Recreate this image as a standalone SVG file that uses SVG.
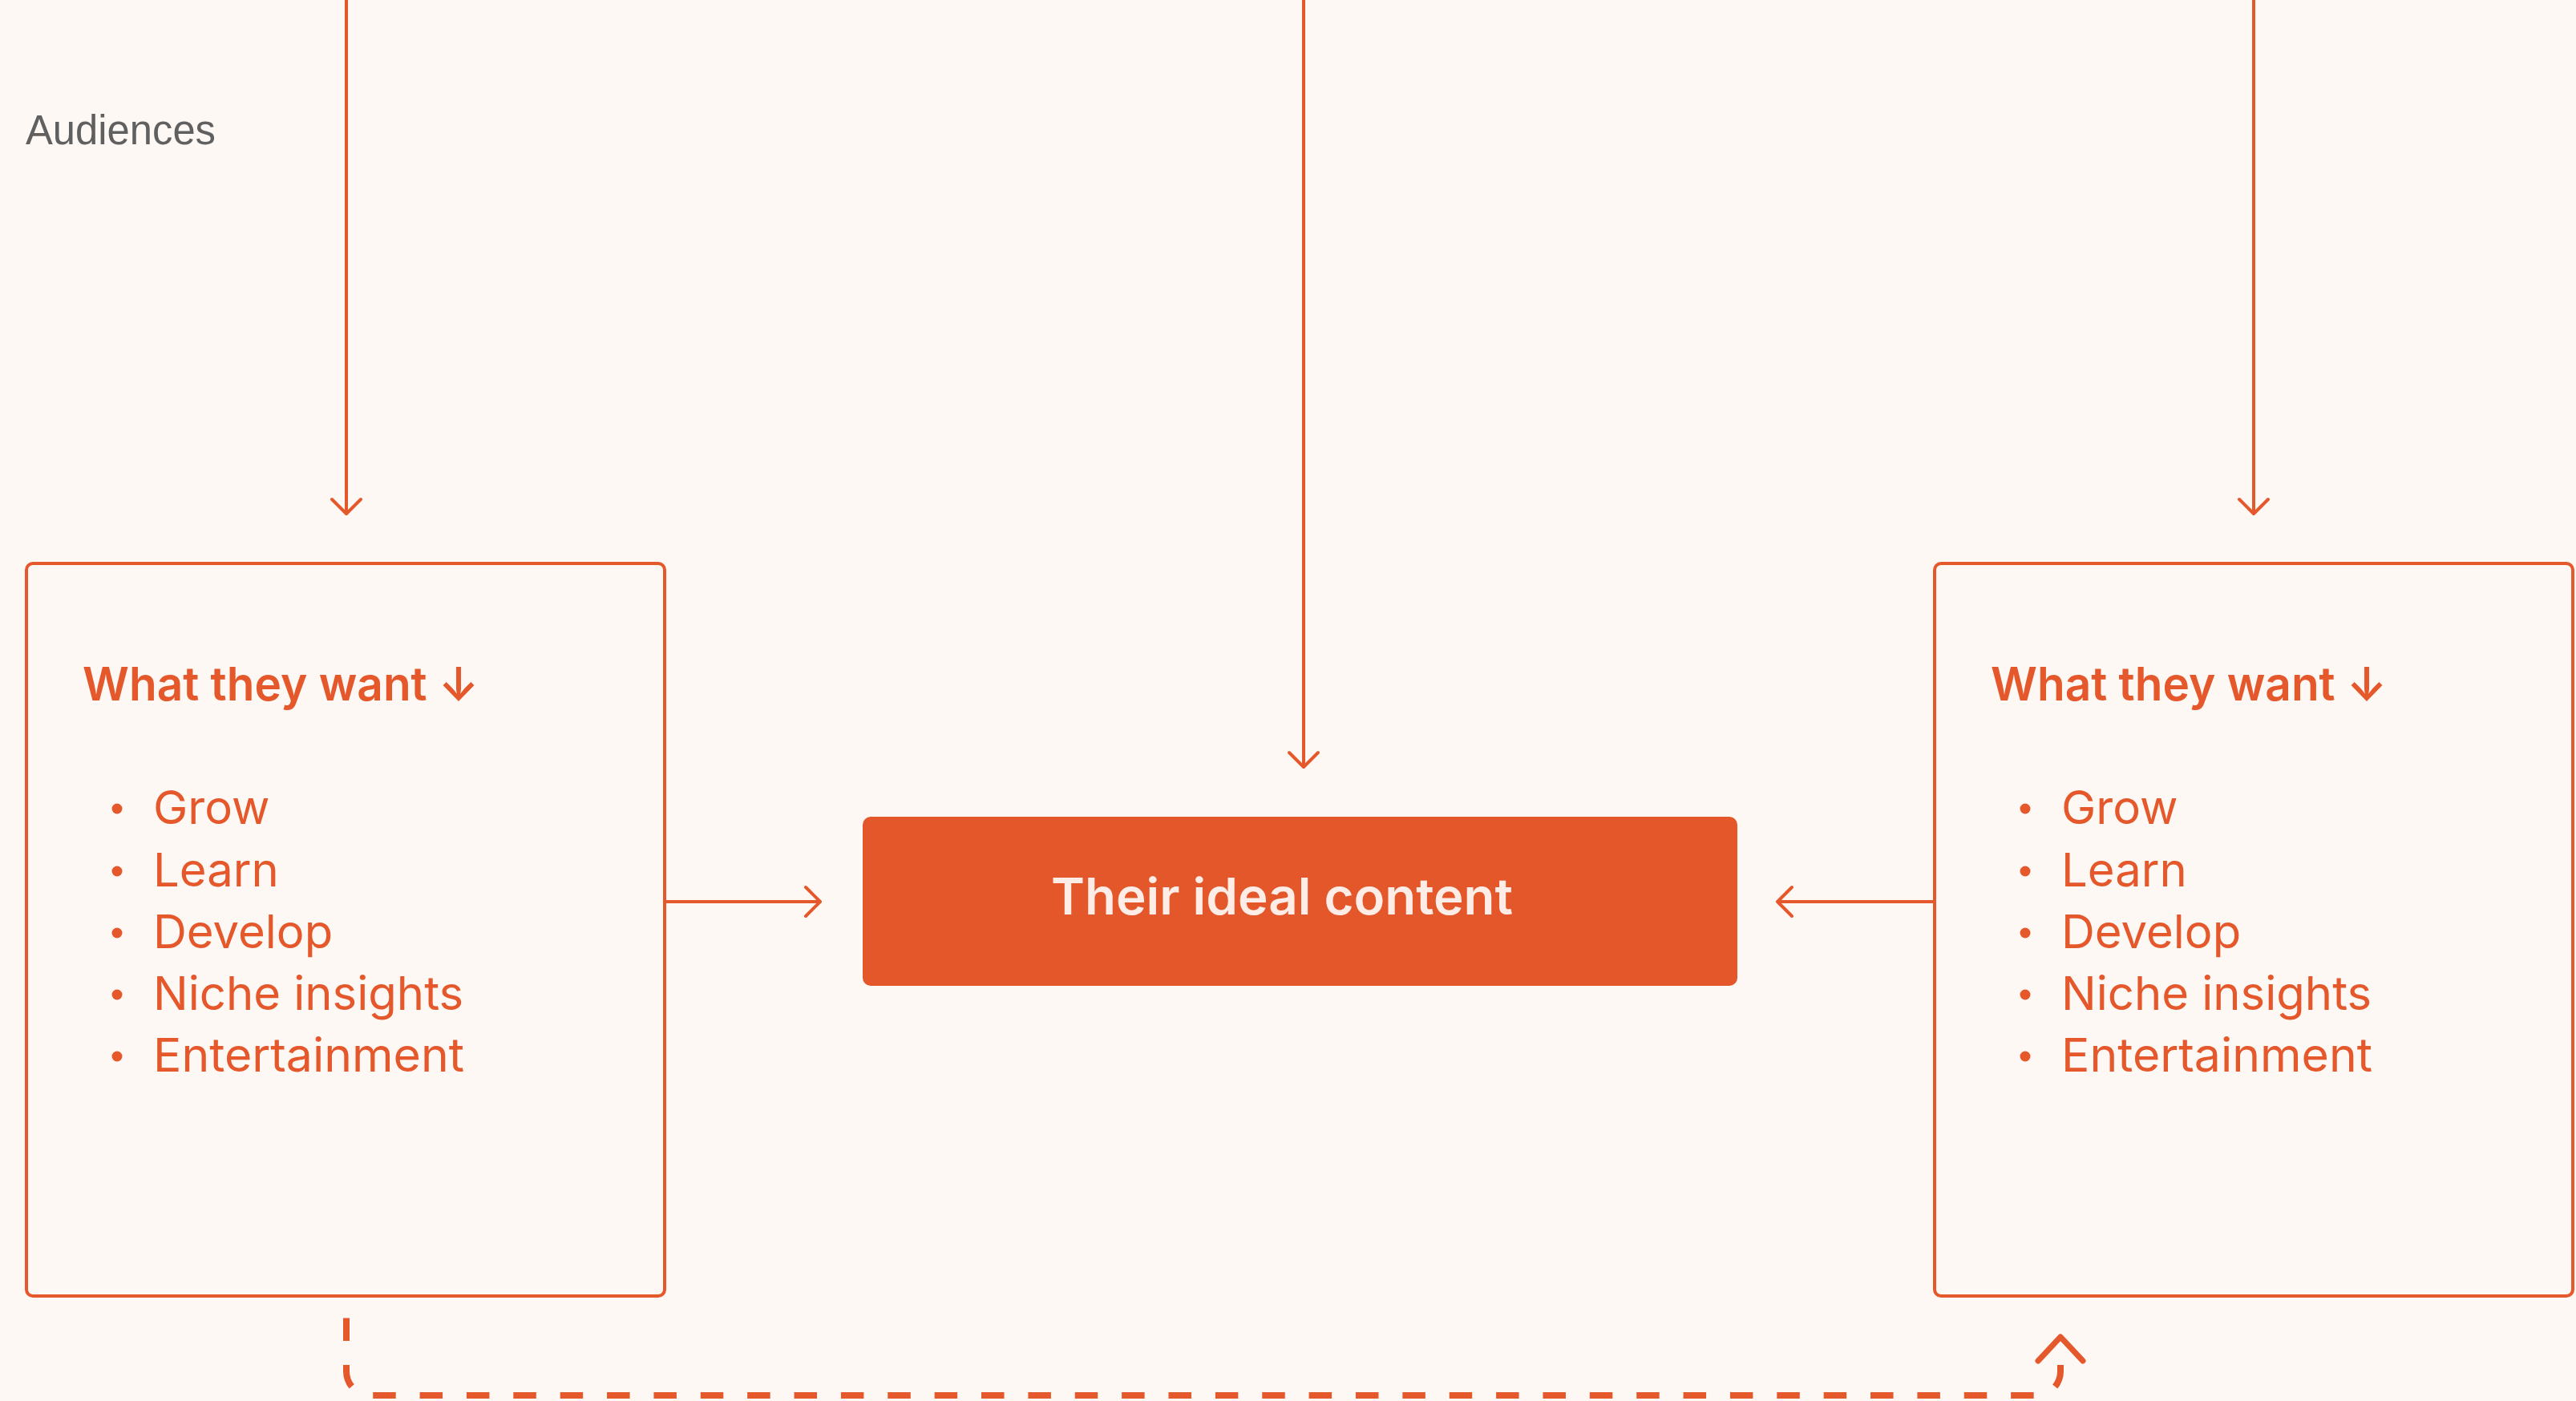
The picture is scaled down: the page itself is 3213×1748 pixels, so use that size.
<svg xmlns="http://www.w3.org/2000/svg" width="3213" height="1748" viewBox="0 0 3213 1748">
<style>
.bg{fill:#FEF8F5}
.box{fill:none;stroke:#E4582B;stroke-width:4}
.hdr{font-family:Inter,"Noto Sans",sans-serif;font-weight:600;font-size:58px;fill:#E4582B}
.item{font-family:Inter,"Noto Sans",sans-serif;font-weight:400;font-size:58px;fill:#E4582B}
.dot{fill:#E4582B}
.conn{fill:none;stroke:#E4582B;stroke-width:4}
.dash{fill:none;stroke:#E4582B;stroke-width:8;stroke-dasharray:28.5 29.87;stroke-dashoffset:53.86}
.lbl{font-family:"Liberation Sans",Arial,sans-serif;font-size:51px;fill:#606060}
.ctr{font-family:Inter,"Noto Sans",sans-serif;font-weight:600;font-size:63px;fill:#FDEDE6}
</style>
<defs>
<marker id="arr" viewBox="-24 -24 30 48" refX="0" refY="0" markerWidth="30" markerHeight="48" markerUnits="userSpaceOnUse" orient="auto">
<path d="M-18,-18 L0,0 L-18,18" fill="none" stroke="#E4582B" stroke-width="4" stroke-linecap="round" stroke-linejoin="round"/>
</marker>
<marker id="arrL" viewBox="-36 -36 44 72" refX="0" refY="0" markerWidth="44" markerHeight="72" markerUnits="userSpaceOnUse" orient="auto">
<path d="M-30,-28 L0,0 L-30,28" fill="none" stroke="#E4582B" stroke-width="7" stroke-linecap="round" stroke-linejoin="round"/>
</marker>
</defs>
<rect class="bg" x="0" y="0" width="3213" height="1748"/>
<text id="audiences" class="lbl" x="32" y="180" textLength="237" lengthAdjust="spacingAndGlyphs">Audiences</text>
<g id="connectors">
<line class="conn" x1="432" y1="0" x2="432" y2="641" marker-end="url(#arr)"/>
<line class="conn" x1="1626" y1="0" x2="1626" y2="957" marker-end="url(#arr)"/>
<line class="conn" x1="2811" y1="0" x2="2811" y2="641" marker-end="url(#arr)"/>
<line class="conn" x1="831" y1="1125" x2="1023" y2="1125" marker-end="url(#arr)"/>
<line class="conn" x1="2411" y1="1125" x2="2217" y2="1125" marker-end="url(#arr)"/>
<path class="dash" d="M432,1640 V1711 A30,30 0 0 0 462,1741 H2540 A30,30 0 0 0 2570,1711 V1668" marker-end="url(#arrL)"/>
</g>
<g id="node-left">
<rect class="box" x="33" y="703" width="796" height="914" rx="8"/>
<text class="hdr" x="103" y="874" textLength="494" lengthAdjust="spacingAndGlyphs">What they want ↓</text>
<circle class="dot" cx="146" cy="1009" r="6.5"/>
<text class="item" x="191" y="1028">Grow</text>
<circle class="dot" cx="146" cy="1087" r="6.5"/>
<text class="item" x="191" y="1106">Learn</text>
<circle class="dot" cx="146" cy="1164" r="6.5"/>
<text class="item" x="191" y="1183">Develop</text>
<circle class="dot" cx="146" cy="1241" r="6.5"/>
<text class="item" x="191" y="1260">Niche insights</text>
<circle class="dot" cx="146" cy="1318" r="6.5"/>
<text class="item" x="191" y="1337" textLength="388" lengthAdjust="spacingAndGlyphs">Entertainment</text>
</g>
<g id="node-center">
<rect x="1076" y="1019" width="1091" height="211" rx="10" fill="#E3572B"/>
<text class="ctr" x="1311" y="1141" textLength="576" lengthAdjust="spacingAndGlyphs">Their ideal content</text>
</g>
<g id="node-right">
<rect class="box" x="2413" y="703" width="796" height="914" rx="8"/>
<text class="hdr" x="2483" y="874" textLength="494" lengthAdjust="spacingAndGlyphs">What they want ↓</text>
<circle class="dot" cx="2526" cy="1009" r="6.5"/>
<text class="item" x="2571" y="1028">Grow</text>
<circle class="dot" cx="2526" cy="1087" r="6.5"/>
<text class="item" x="2571" y="1106">Learn</text>
<circle class="dot" cx="2526" cy="1164" r="6.5"/>
<text class="item" x="2571" y="1183">Develop</text>
<circle class="dot" cx="2526" cy="1241" r="6.5"/>
<text class="item" x="2571" y="1260">Niche insights</text>
<circle class="dot" cx="2526" cy="1318" r="6.5"/>
<text class="item" x="2571" y="1337" textLength="388" lengthAdjust="spacingAndGlyphs">Entertainment</text>
</g>
</svg>
